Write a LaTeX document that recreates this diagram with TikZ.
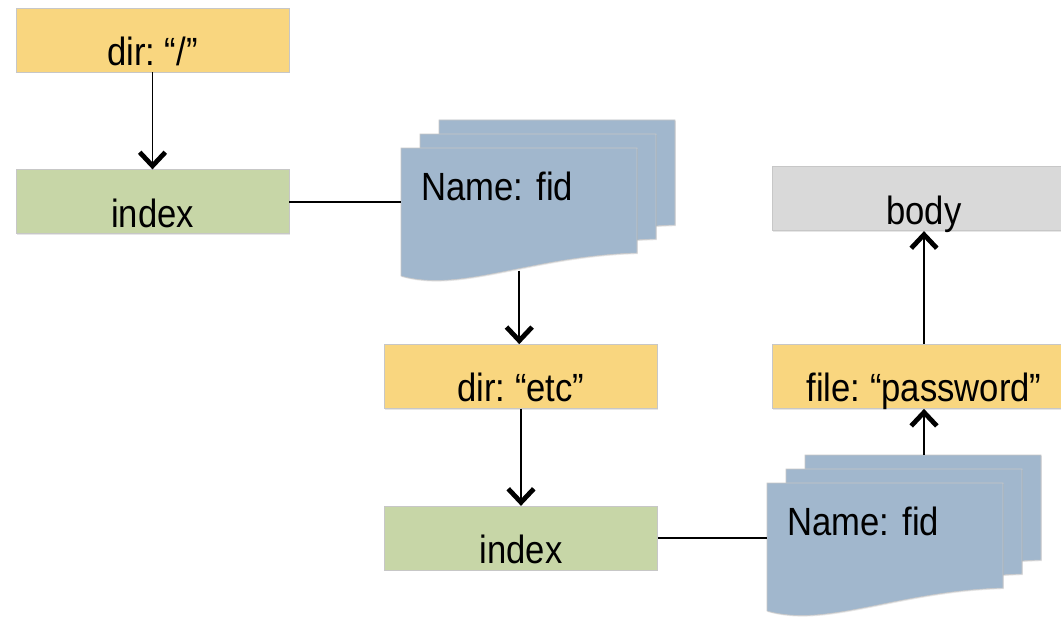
\documentclass[tikz,border=0pt]{standalone}
\usepackage{fontspec}
\setmainfont{Liberation Sans}[FakeStretch=0.88]
\frenchspacing
\usetikzlibrary{
    arrows.meta,
    positioning,
    shadows
}
\definecolor{dir-yellow}{RGB}{249,214,127}
\definecolor{index-green}{RGB}{199,214,167}
\definecolor{doc-blue}{RGB}{161,183,205}
\definecolor{body-gray}{RGB}{217,217,217}

\tikzset{
    doc-sheet/.style={
        fill=doc-blue,
        draw=black!22,
        line width=0.4pt,
        drop shadow={shadow xshift=0.6pt, shadow yshift=-0.8pt, opacity=0.2}
    },
    pics/doc-stack/.style={code={
        \foreach \k in {2,1,0} {
            \filldraw[doc-sheet, shift={(\k*0.475, \k*0.35)}] (0,0) -- (5.9,0) -- (5.9,-2.625)
                .. controls (3.25,-2.7) and (1.5,-3.625) .. (0,-3.2) -- cycle;
        }
    }}
}

\begin{document}
\begin{tikzpicture}[
    box/.style={draw=black!22, line width=0.5pt, minimum width=6.825cm, minimum height=1.6cm,
        inner ysep=0pt, text height=36pt, text depth=0pt,
        font=\fontsize{28}{32}\selectfont,
        drop shadow={shadow xshift=0.6pt, shadow yshift=-0.8pt, opacity=0.2}},
    dir/.style={box, fill=dir-yellow},
    index/.style={box, fill=index-green},
    leaf/.style={box, minimum width=7.6cm},
    doc/.style={anchor=north west, minimum width=5.9cm, minimum height=3.05cm, text width=4.9cm,
        inner xsep=0.5cm, inner ysep=0pt, align=left, text height=20pt, text depth=33pt,
        font=\fontsize{28}{32}\selectfont},
    connection/.style={-{Straight Barb[length=3.4mm, width=6.4mm, line width=3.4pt, line join=miter]}, line width=1.2pt},
    link/.style={-, line width=1.2pt}
    ]

    \useasboundingbox (0,0) rectangle (26.525,15.4);

    \node[dir] (root) at (3.8125,14.4) {dir: “/”};
    \node[index, below=2.425cm of root] (index-root) {index};
    \pic at (10.025,11.7) {doc-stack};
    \node[doc] (fid-root) at (10.025,11.7) {Name: fid};

    \node[dir] (etc) at (13.025,5.9875) {dir: “etc”};
    \node[index, below=2.425cm of etc] (index-etc) {index};
    \pic at (19.175,3.325) {doc-stack};
    \node[doc] (fid-etc) at (19.175,3.325) {Name: fid};
    \coordinate (fid-etc-top) at ([yshift=0.7cm]fid-etc.north);

    \node[leaf, fill=dir-yellow] (password) at (23.1,5.9875) {file: “password”};
    \node[leaf, fill=body-gray, above=2.825cm of password] (body) {body};

    \draw[connection] (root) -- (index-root);
    \draw[link] (index-root) -- (index-root -| fid-root.west);
    \draw[connection] (fid-root.south) -- (fid-root.south |- etc.north);
    \draw[connection] (etc) -- (index-etc);
    \draw[link] (index-etc) -- (index-etc -| fid-etc.west);
    \draw[connection] (password |- fid-etc-top) -- (password);
    \draw[connection] (password) -- (body);

\end{tikzpicture}
\end{document}
